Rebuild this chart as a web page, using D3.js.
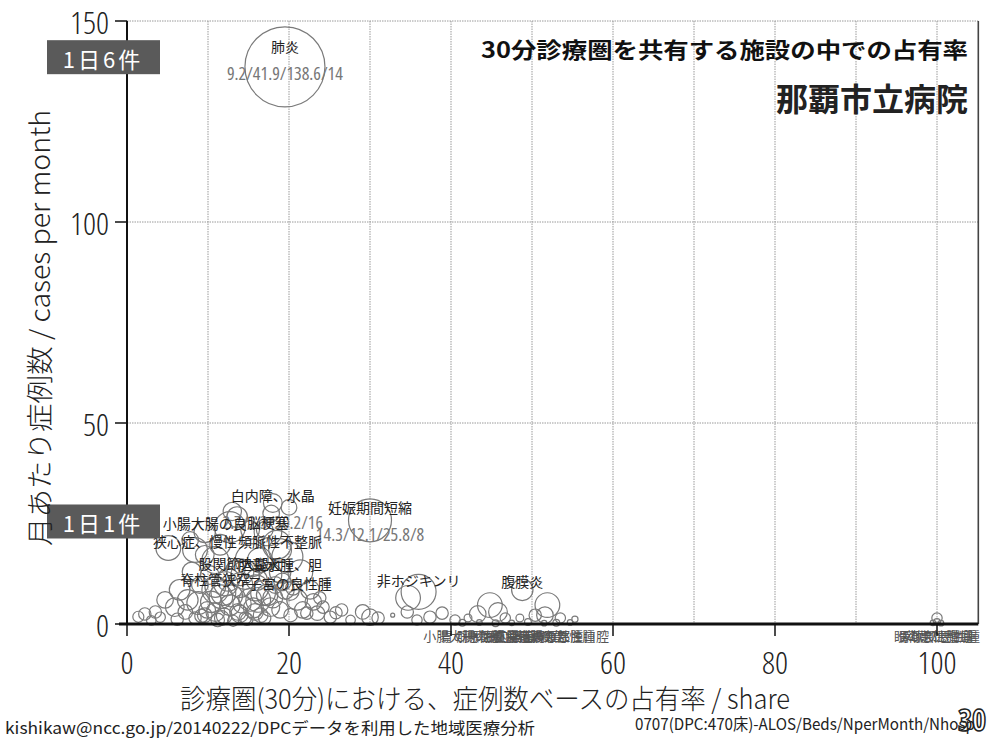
<!DOCTYPE html>
<html><head><meta charset="utf-8">
<script src="https://cdn.jsdelivr.net/npm/d3@7"></script>
<style>
body{margin:0;background:#fff;}
svg{display:block;}
.num{font-family:"Open Sans","Liberation Sans Narrow","DejaVu Sans Condensed",sans-serif;font-stretch:75%;font-weight:300;}
.jp{font-family:"Noto Sans CJK JP","Noto Sans",sans-serif;}
</style></head>
<body>
<script>
// ---- data ----
const xTicks = [0, 20, 40, 60, 80, 100];
const yTicks = [0, 50, 100, 150];
const gridX = [10, 20, 30, 40, 50, 60, 70, 80, 90, 100];
const gridY = [50, 100, 150];
const dayMarks = ["1日6件", "1日1件"];
const dayMarkValues = [141, 25.5];

// labelled diagnoses: share (%), cases per month, beds, stats text
const labelNames = ["肺炎", "白内障、水晶", "妊娠期間短縮", "小腸大腸の良", "脳梗塞", "狭心症、慢性", "頻脈性不整脈",
  "股関節大腿近", "胆嚢水腫、胆", "脊柱管狭窄", "子宮の良性腫", "非ホジキンリ", "腹膜炎",
  "小腸大腸の悪", "胃の悪性腫瘍", "肝・肝内胆管", "膵臓、脾臓の", "直腸肛門(直", "食道の悪性腫", "結腸の悪性腫", "頭頸部・口腔",
  "眼の悪性腫瘍", "骨軟部悪性腫", "膵臓の悪性腫"];
const labelShare = [19.5, 18.0, 30.0, 9.6, 17.4, 8.4, 18.9, 14.0, 18.9, 10.9, 20.1, 36.0, 48.8,
  41.4, 43.5, 45.5, 47.5, 49.5, 51.5, 53.0, 54.7,
  99.5, 100, 100.5];
const labelCases = [138.6, 30.1, 25.8, 22.9, 22.9, 18.4, 18.4, 12.9, 12.9, 9.2, 8.2, 8.0, 8.5,
  0.3, 0.4, 0.2, 0.3, 0.5, 0.2, 0.3, 0.4,
  0.3, 0.5, 0.2];
const labelBeds = [41.9, 2.3, 12.1, 3.0, 5.0, 4.0, 3.4, 4.7, 3.0, 2.8, 2.3, 8.0, 3.0,
  0.3, 0.2, 0.3, 0.2, 0.3, 0.2, 0.3, 0.2,
  0.2, 0.3, 0.2];
const labelStats = ["9.2/41.9/138.6/14", "2.7/2.3/30.2/16", "14.3/12.1/25.8/8", "", "", "", "",
  "", "", "", "", "", "",
  "", "", "", "", "", "", "", "",
  "", "", ""];

// unlabelled diagnoses
const otherShare = [2.2, 4.1, 5.9, 5.1, 7.5, 8.8, 9.9, 10.9, 11.9, 12.7, 13.6, 14.6, 15.4, 16.2, 16.8, 17.7, 18.5, 19.8, 18.9, 21.4,
  21.0, 21.7, 22.2, 23.5, 24.2, 25.1, 26.5, 29.1, 30.0, 31.0, 32.8, 34.6, 35.8, 37.4, 38.9, 40.5, 42.1, 43.3, 44.8, 45.8,
  46.7, 48.5, 50.4, 51.9, 51.6, 53.5, 55.3, 100, 8.4, 9.6, 10.9, 11.7, 12.7, 13.7, 14.6, 15.2, 15.8, 17.0, 14.0, 12.5,
  10.2, 9.0, 7.2, 6.5, 4.7, 3.5, 16.4, 17.7, 19.5, 18.3, 11.5, 9.6, 7.8, 15.2, 17.0, 22.6, 23.8, 20.5, 10.9, 34.7,
  11.2, 12.0, 13.1, 13.9, 14.8, 15.6, 16.5, 10.4, 11.6, 12.9, 14.2, 15.9, 17.3, 9.2, 12.2, 13.4, 16.0, 18.0, 19.2, 20.2,
  8.0, 6.2, 3.0, 1.4, 23.0, 25.8, 27.6, 20.0, 13.0, 17.8];
const otherCases = [2.5, 1.7, 4.2, 18.9, 6.0, 5.2, 3.5, 8.5, 7.7, 24.1, 26.6, 12.2, 15.9, 6.0, 7.7, 4.2, 19.7, 16.7, 3.5, 12.9,
  6.0, 3.5, 2.7, 2.7, 4.2, 1.7, 3.5, 3.0, 1.7, 1.5, 2.2, 3.0, 1.0, 1.7, 2.7, 1.0, 1.5, 2.5, 4.7, 3.0,
  1.5, 1.5, 2.2, 4.7, 2.2, 1.5, 1.2, 1.5, 1.5, 2.2, 3.0, 1.5, 4.7, 3.0, 1.5, 6.0, 3.0, 1.5, 9.7, 11.0,
  12.2, 9.7, 3.0, 8.5, 6.0, 3.0, 15.9, 12.2, 8.5, 9.7, 19.7, 17.2, 20.9, 23.4, 23.4, 8.5, 6.5, 9.0, 15.9, 6.5,
  1.0, 2.0, 0.8, 2.5, 1.2, 4.0, 2.2, 5.5, 6.8, 7.0, 5.0, 9.0, 7.2, 2.0, 10.0, 13.5, 11.0, 6.5, 10.5, 2.2,
  13.0, 1.2, 0.9, 1.8, 5.5, 2.8, 1.0, 29.0, 28.0, 27.5];
const otherBeds = [1.0, 0.7, 2.3, 4.0, 2.8, 3.4, 1.8, 4.7, 4.0, 6.3, 2.8, 5.4, 7.1, 4.0, 4.0, 2.3, 5.4, 6.3, 1.8, 4.0,
  2.8, 1.8, 1.0, 1.4, 1.0, 1.0, 1.0, 1.4, 1.8, 1.0, 0.1, 1.0, 0.7, 1.0, 1.0, 0.7, 0.4, 1.8, 4.0, 2.3,
  0.7, 0.4, 1.0, 4.0, 1.8, 0.7, 0.25, 0.7, 1.0, 1.4, 2.3, 1.4, 2.8, 1.8, 1.0, 3.4, 1.8, 1.0, 4.0, 3.4,
  2.3, 1.8, 1.4, 2.8, 1.8, 1.0, 4.0, 3.4, 2.3, 1.8, 2.8, 2.3, 1.8, 2.3, 1.8, 2.3, 1.0, 1.4, 4.7, 4.0,
  1.2, 1.6, 0.8, 2.0, 1.0, 2.6, 1.4, 3.0, 3.6, 3.2, 2.2, 4.4, 3.0, 1.2, 3.8, 2.4, 3.0, 2.6, 2.0, 1.2,
  2.4, 1.0, 0.6, 0.8, 1.8, 1.0, 0.6, 1.6, 2.2, 1.8];

const titleLine1 = "30分診療圏を共有する施設の中での占有率";
const titleLine2 = "那覇市立病院";
const xTitle = "診療圏(30分)における、症例数ベースの占有率 / share";
const yTitle = "月あたり症例数 / cases per month";
const footLeft = "kishikaw@ncc.go.jp/20140222/DPCデータを利用した地域医療分析";
const footRight = "0707(DPC:470床)-ALOS/Beds/NperMonth/Nhosp";
const pageNo = "30";

// ---- drawing ----
const W = 1003, H = 742;
const svg = d3.select("body").append("svg").attr("width", W).attr("height", H);
const x = d3.scaleLinear().domain([0, 100]).range([127, 937]);
const y = d3.scaleLinear().domain([0, 150]).range([624, 21]);
const r = d3.scaleSqrt().domain([0, 41.9]).range([0, 40]);
const xMax = 105.1;

// grid
svg.append("g").selectAll("line").data(gridX).join("line")
  .attr("x1", d => x(d)).attr("x2", d => x(d)).attr("y1", y(150)).attr("y2", y(0))
  .attr("stroke", "#9a9a9a").attr("stroke-width", 1).attr("stroke-dasharray", "1.5,1");
svg.append("g").selectAll("line").data(gridY).join("line")
  .attr("x1", x(0)).attr("x2", x(xMax)).attr("y1", d => y(d)).attr("y2", d => y(d))
  .attr("stroke", "#9a9a9a").attr("stroke-width", 1).attr("stroke-dasharray", "1.5,1");
// right border
svg.append("line").attr("x1", x(xMax)).attr("x2", x(xMax)).attr("y1", y(150)).attr("y2", y(0))
  .attr("stroke", "#444").attr("stroke-width", 1.6);

// bubbles
const others = otherShare.map((s, i) => ({s, c: otherCases[i], b: otherBeds[i]}));
const labelled = labelNames.map((n, i) => ({n, s: labelShare[i], c: labelCases[i], b: labelBeds[i], st: labelStats[i]}));
const bubbleStyle = sel => sel.attr("fill", "none").attr("stroke", "#7a7a7a").attr("stroke-width", 1.2);
svg.append("g").selectAll("circle").data(others).join("circle")
  .attr("cx", d => x(d.s)).attr("cy", d => y(d.c)).attr("r", d => Math.max(2, r(d.b))).call(bubbleStyle);
svg.append("g").selectAll("circle").data(labelled).join("circle")
  .attr("cx", d => x(d.s)).attr("cy", d => y(d.c)).attr("r", d => Math.max(2, r(d.b))).call(bubbleStyle);

// labels
const lg = svg.append("g");
labelled.forEach(d => {
  const below = d.c < 1;
  const rr = r(d.b);
  const ny = below ? y(0) + 11 : y(d.c) - 4 - 0.42 * rr;
  lg.append("text").attr("class", "jp").attr("x", x(d.s)).attr("y", ny)
    .attr("text-anchor", "middle").attr("dominant-baseline", "central")
    .attr("font-size", below ? 13 : 14).attr("fill", below ? "#555" : "#222").text(d.n);
  if (d.st) {
    lg.append("text").attr("class", "num").attr("x", x(d.s)).attr("y", ny + 27)
      .attr("text-anchor", "middle").attr("dominant-baseline", "central")
      .attr("font-size", 18).attr("fill", "#777").style("font-weight", 400).text(d.st);
  }
});

// axes
svg.append("line").attr("x1", x(0)).attr("x2", x(0)).attr("y1", y(150)).attr("y2", y(0))
  .attr("stroke", "#111").attr("stroke-width", 2);
svg.append("line").attr("x1", x(0) - 8).attr("x2", x(xMax)).attr("y1", y(0)).attr("y2", y(0))
  .attr("stroke", "#111").attr("stroke-width", 3);
svg.append("g").selectAll("line").data(yTicks).join("line")
  .attr("x1", x(0) - 12).attr("x2", x(0)).attr("y1", d => y(d)).attr("y2", d => y(d))
  .attr("stroke", "#111").attr("stroke-width", 1.5);
svg.append("g").selectAll("line").data(xTicks).join("line")
  .attr("x1", d => x(d)).attr("x2", d => x(d)).attr("y1", y(0)).attr("y2", y(0) + 12)
  .attr("stroke", "#111").attr("stroke-width", 1.5);
svg.append("g").selectAll("text").data(yTicks).join("text").attr("class", "num")
  .attr("x", x(0) - 18).attr("y", d => y(d)).attr("text-anchor", "end").attr("dominant-baseline", "central")
  .attr("font-size", 32).attr("fill", "#222").text(d => d);
svg.append("g").selectAll("text").data(xTicks).join("text").attr("class", "num")
  .attr("x", d => x(d)).attr("y", 661).attr("text-anchor", "middle").attr("dominant-baseline", "central")
  .attr("font-size", 32).attr("fill", "#222").text(d => d);

// day marks
dayMarks.forEach((t, i) => {
  const cy = y(dayMarkValues[i]);
  svg.append("rect").attr("x", 47).attr("y", cy - 17).attr("width", 113).attr("height", 34)
    .attr("fill", "#5a5a5a");
  svg.append("text").attr("class", "jp").attr("x", 103).attr("y", cy + 1).attr("text-anchor", "middle")
    .attr("dominant-baseline", "central").attr("font-size", 22).attr("fill", "#fff")
    .attr("letter-spacing", 3).text(t);
});

// titles
svg.append("text").attr("class", "jp").attr("x", 968).attr("y", 48).attr("text-anchor", "end")
  .attr("dominant-baseline", "central").attr("font-size", 22).attr("font-weight", 700).attr("fill", "#111")
  .attr("textLength", 487).attr("lengthAdjust", "spacingAndGlyphs").text(titleLine1);
svg.append("text").attr("class", "jp").attr("x", 968).attr("y", 97).attr("text-anchor", "end")
  .attr("dominant-baseline", "central").attr("font-size", 32).attr("font-weight", 700).attr("fill", "#222")
  .text(titleLine2);
svg.append("text").attr("class", "jp").attr("x", 485).attr("y", 697).attr("text-anchor", "middle")
  .attr("dominant-baseline", "central").attr("font-size", 27).attr("font-weight", 300).attr("fill", "#222")
  .attr("textLength", 610).attr("lengthAdjust", "spacingAndGlyphs").text(xTitle);
svg.append("text").attr("class", "jp").attr("transform", "translate(38,328) rotate(-90)")
  .attr("text-anchor", "middle").attr("dominant-baseline", "central")
  .attr("font-size", 27).attr("font-weight", 300).attr("fill", "#222")
  .attr("textLength", 436).attr("lengthAdjust", "spacingAndGlyphs").text(yTitle);

// footer
svg.append("text").attr("class", "jp").attr("x", 5).attr("y", 727).attr("dominant-baseline", "central")
  .attr("font-size", 16).attr("fill", "#222").attr("textLength", 530).attr("lengthAdjust", "spacingAndGlyphs").text(footLeft);
svg.append("text").attr("class", "jp").attr("x", 975).attr("y", 723).attr("text-anchor", "end").attr("dominant-baseline", "central")
  .attr("font-size", 16).attr("fill", "#222").attr("textLength", 340).attr("lengthAdjust", "spacingAndGlyphs").text(footRight);
svg.append("text").attr("class", "num").attr("x", 972).attr("y", 719).attr("text-anchor", "middle").attr("dominant-baseline", "central")
  .attr("font-size", 30).style("font-weight", 700).attr("fill", "none").attr("stroke", "#222").attr("stroke-width", 1.5).text(pageNo);
</script>
</body></html>
